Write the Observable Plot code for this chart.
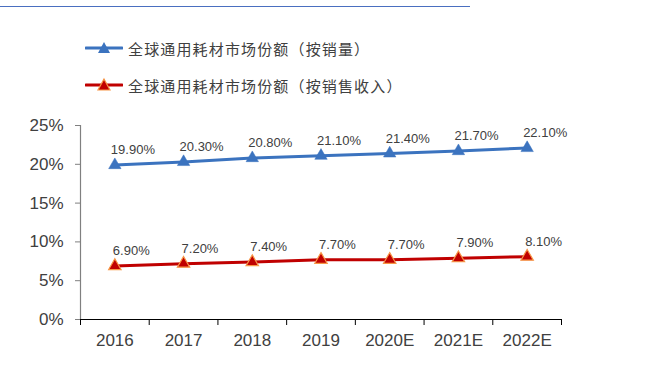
<!DOCTYPE html>
<html><head><meta charset="utf-8">
<script src="https://cdn.jsdelivr.net/npm/d3@7"></script>
<script src="https://cdn.jsdelivr.net/npm/@observablehq/plot@0.6"></script>
<style>
body{margin:0;background:#fff;width:645px;height:371px;overflow:hidden;position:relative;font-family:"Liberation Sans",Arial,sans-serif;}
#rule{position:absolute;left:0;top:6px;width:470px;height:0;border-top:1.5px solid #4a6fc0;}
.leg{position:absolute;left:85px;height:20px;display:flex;align-items:center;font-family:"Noto Sans CJK SC",sans-serif;font-size:15px;letter-spacing:1.15px;color:#404040;}
.leg svg{margin-right:5px;}
#chart{position:absolute;left:0;top:100px;}
</style></head>
<body>
<div id="rule"></div>
<div class="leg" style="top:38px"><svg width="38" height="16"><line x1="1" y1="8" x2="37" y2="8" stroke="#3b73bf" stroke-width="3" stroke-linecap="round"/><path d="M19,2 L25,13 L13,13 Z" fill="#3b73bf"/></svg><span>全球通用耗材市场份额（按销量）</span></div>
<div class="leg" style="top:75px"><svg width="38" height="16"><line x1="1" y1="8" x2="37" y2="8" stroke="#c00000" stroke-width="3" stroke-linecap="round"/><path d="M19,2 L25,13 L13,13 Z" fill="#c00000" stroke="#f79646" stroke-width="1.2"/></svg><span>全球通用耗材市场份额（按销售收入）</span></div>
<div id="chart"></div>
<script>
const categories = ["2016","2017","2018","2019","2020E","2021E","2022E"];
const volumeShare = [0.199,0.203,0.208,0.211,0.214,0.217,0.221];
const revenueShare = [0.069,0.072,0.074,0.077,0.077,0.079,0.081];
const yTicks = [0,0.05,0.10,0.15,0.20,0.25];

const vol = categories.map((c,i)=>({i:i+0.5, v:volumeShare[i]}));
const rev = categories.map((c,i)=>({i:i+0.5, v:revenueShare[i]}));
const bounds = d3.range(categories.length+1);
const centers = categories.map((c,i)=>i+0.5);
const pct = d3.format(".2%");

const plot = Plot.plot({
  width: 645,
  height: 271,
  marginTop: 25,
  marginBottom: 52,
  marginLeft: 80,
  marginRight: 84,
  style: {fontFamily: '"Liberation Sans", Arial, sans-serif', background: "transparent"},
  x: {domain: [0, categories.length], axis: null},
  y: {domain: [0, 0.25], axis: null},
  marks: [
    Plot.axisY({ticks: yTicks, tickFormat: d3.format(".0%"), label: null, tickSize: 5, tickPadding: 12, fontSize: 17, color: "#404040", stroke: "#808080"}),
    Plot.ruleX([0], {stroke: "#808080", strokeWidth: 1.2}),
    Plot.axisX({ticks: bounds, tickFormat: () => "", label: null, tickSize: 6, stroke: "#000"}),
    Plot.axisX({ticks: centers, tickFormat: d => categories[Math.floor(d)], label: null, tickSize: 0, tickPadding: 14, fontSize: 17, color: "#404040"}),
    Plot.ruleY([0], {stroke: "#000", strokeWidth: 1.2}),
    Plot.line(vol, {x: "i", y: "v", stroke: "#3b73bf", strokeWidth: 3}),
    Plot.dot(vol, {x: "i", y: "v", symbol: "triangle", r: 4.6, fill: "#3b73bf", stroke: "#3b73bf", strokeWidth: 0.5}),
    Plot.line(rev, {x: "i", y: "v", stroke: "#c00000", strokeWidth: 3}),
    Plot.dot(rev, {x: "i", y: "v", symbol: "triangle", r: 4.6, fill: "#c00000", stroke: "#f79646", strokeWidth: 1.2}),
    Plot.text(vol, {x: "i", y: "v", text: d => pct(d.v), textAnchor: "start", dx: -4, dy: -15, fontSize: 13, fill: "#404040"}),
    Plot.text(rev, {x: "i", y: "v", text: d => pct(d.v), textAnchor: "start", dx: -2, dy: -15, fontSize: 13, fill: "#404040"})
  ]
});
document.getElementById("chart").appendChild(plot);
</script>
</body></html>
